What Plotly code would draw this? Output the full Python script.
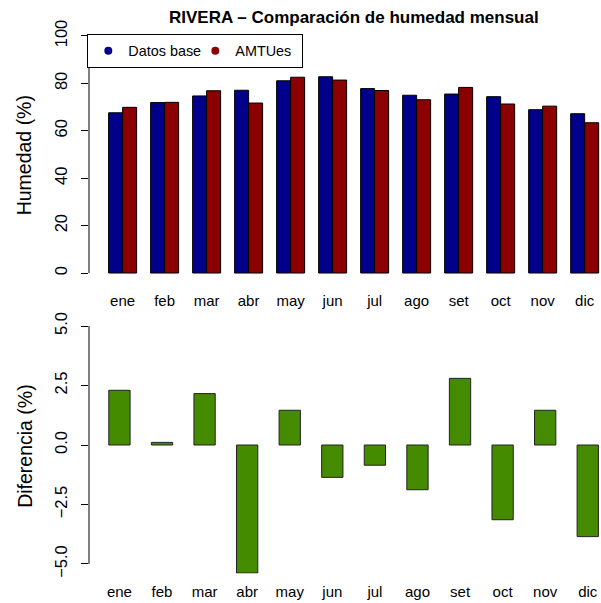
import plotly.graph_objects as go

months = ["ene", "feb", "mar", "abr", "may", "jun", "jul", "ago", "set", "oct", "nov", "dic"]
datos_base = [67.6, 71.9, 74.7, 77.1, 81.1, 82.8, 77.8, 75.0, 75.5, 74.4, 68.9, 67.2]
amtues = [69.9, 72.0, 76.9, 71.7, 82.6, 81.4, 77.0, 73.1, 78.3, 71.3, 70.4, 63.4]
diferencia = [2.30, 0.11, 2.16, -5.38, 1.46, -1.36, -0.85, -1.88, 2.80, -3.14, 1.46, -3.85]
top_ticks = [0, 20, 40, 60, 80, 100]
bot_ticks = [-5.0, -2.5, 0.0, 2.5, 5.0]
bot_ticklabels = ["\u22125.0", "\u22122.5", "0.0", "2.5", "5.0"]

BLUE = "#00008B"
RED = "#8B0000"
GREEN = "#458B00"
FONT = "Liberation Sans, Arial, sans-serif"

W, H = 601, 603

fig = go.Figure()
fig.add_trace(go.Bar(x=months, y=datos_base, width=1/3, offset=-1/3, marker=dict(color=BLUE, line=dict(color="black", width=1)),
                     showlegend=False, xaxis="x", yaxis="y"))
fig.add_trace(go.Bar(x=months, y=amtues, width=1/3, offset=0, marker=dict(color=RED, line=dict(color="black", width=1)),
                     showlegend=False, xaxis="x", yaxis="y"))
fig.add_trace(go.Bar(x=months, y=diferencia, width=0.5, marker=dict(color=GREEN, line=dict(color="#222222", width=1)),
                     showlegend=False, xaxis="x2", yaxis="y2"))
# legend entries (dots)
fig.add_trace(go.Scatter(x=[None], y=[None], mode="markers", name="Datos base",
                         marker=dict(color=BLUE, size=8, symbol="circle"), xaxis="x", yaxis="y"))
fig.add_trace(go.Scatter(x=[None], y=[None], mode="markers", name="AMTUes",
                         marker=dict(color=RED, size=8, symbol="circle"), xaxis="x", yaxis="y"))

def py(px):
    return 1 - px / H

left = 88.7
fig.update_layout(
    width=W, height=H,
    margin=dict(l=left, r=0, t=0, b=0, autoexpand=False),
    paper_bgcolor="white", plot_bgcolor="white",
    barmode="overlay",
    font=dict(family=FONT, size=15, color="black"),
    showlegend=True,
    legend=dict(x=(87 - left) / (W - left), y=py(34), xanchor="left", yanchor="top",
                orientation="h", bordercolor="black", borderwidth=1, bgcolor="white",
                font=dict(size=14.4, family=FONT), itemwidth=30, entrywidth=62, entrywidthmode="pixels"),
    xaxis=dict(domain=[0, 1], anchor="y", type="category", categoryarray=months, range=[-0.8, 11.389],
               showline=False, showgrid=False, zeroline=False, ticks="", ticklabelstandoff=7,
               tickfont=dict(size=15)),
    yaxis=dict(domain=[py(282.5), py(26.5)], anchor="x", range=[-4, 104], tickvals=top_ticks,
               showline=False, showgrid=False, zeroline=False, ticks="outside", ticklen=7,
               tickcolor="black", tickangle=-90, ticklabelstandoff=7, tickfont=dict(size=16.5)),
    xaxis2=dict(domain=[0, 1], anchor="y2", type="category", categoryarray=months, range=[-0.715, 11.311],
                showline=False, showgrid=False, zeroline=False, ticks="", ticklabelstandoff=7,
                tickfont=dict(size=15)),
    yaxis2=dict(domain=[py(573.5), py(316.5)], anchor="x2", range=[-5.4, 5.4], tickvals=bot_ticks,
                ticktext=bot_ticklabels,
                showline=False, showgrid=False, zeroline=False, ticks="outside", ticklen=7,
                tickcolor="black", tickangle=-90, ticklabelstandoff=7, tickfont=dict(size=16.5)),
    shapes=[
        dict(type="line", xref="x domain", yref="y", x0=0, x1=0, y0=0, y1=100, line=dict(color="black", width=1)),
        dict(type="line", xref="x2 domain", yref="y2", x0=0, x1=0, y0=-5, y1=5, line=dict(color="black", width=1)),
    ],
    annotations=[
        dict(text="<b>RIVERA \u2013 Comparación de humedad mensual</b>", xref="paper", yref="paper",
             x=(353.5 - left) / (W - left), y=py(18), xanchor="center", yanchor="middle",
             showarrow=False, font=dict(size=17, family=FONT)),
        dict(text="Humedad (%)", xref="paper", yref="paper", x=(24 - left) / (W - left), y=py(155),
             xanchor="center", yanchor="middle", textangle=-90, showarrow=False, font=dict(size=19.5, family=FONT)),
        dict(text="Diferencia (%)", xref="paper", yref="paper", x=(24 - left) / (W - left), y=py(445.5),
             xanchor="center", yanchor="middle", textangle=-90, showarrow=False, font=dict(size=19.5, family=FONT)),
    ],
)

fig.write_html("out.html", config={"displayModeBar": False},
               post_script="document.body.style.margin='0';document.body.style.padding='0';document.body.style.overflow='hidden';")
